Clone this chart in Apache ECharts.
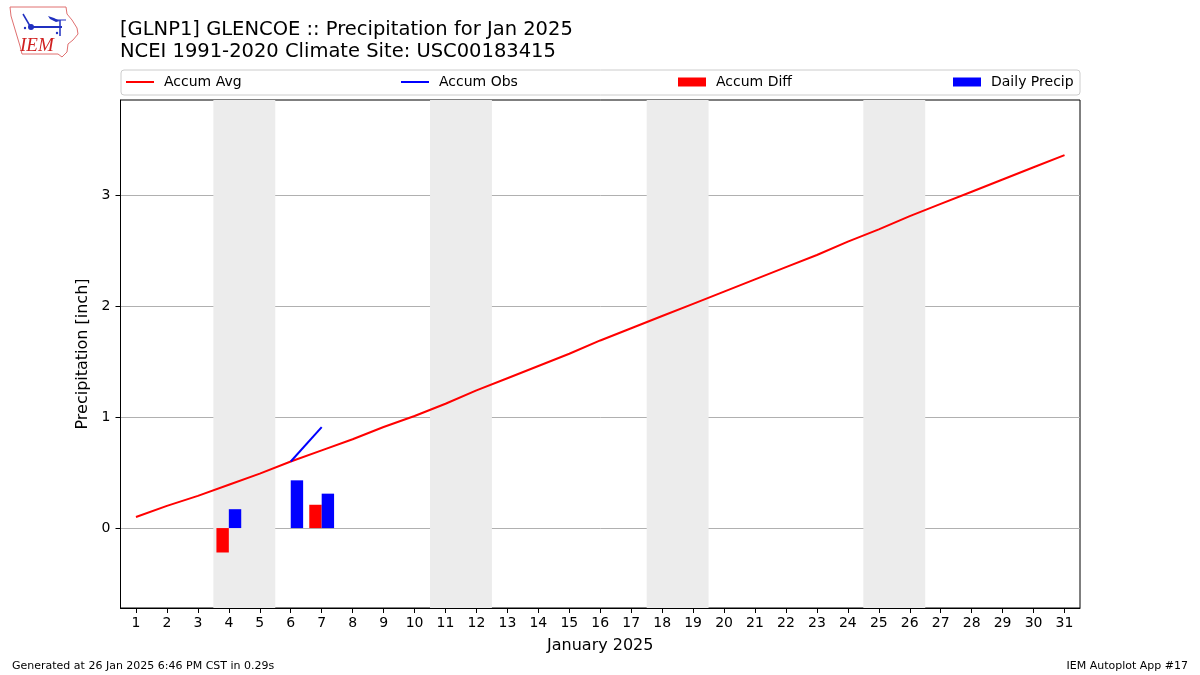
<!DOCTYPE html>
<html>
<head>
<meta charset="utf-8">
<script src="https://cdn.jsdelivr.net/npm/echarts@6/dist/echarts.min.js"></script>
<style>html,body{margin:0;padding:0;background:#fff;}#c{width:1200px;height:675px;}</style>
</head>
<body>
<div id="c"></div>
<script>
const days = ['1','2','3','4','5','6','7','8','9','10','11','12','13','14','15','16','17','18','19','20','21','22','23','24','25','26','27','28','29','30','31'];
const accumAvg = [0.10,0.20,0.29,0.39,0.49,0.60,0.70,0.80,0.91,1.01,1.12,1.24,1.35,1.46,1.57,1.69,1.80,1.91,2.02,2.13,2.24,2.35,2.46,2.58,2.69,2.81,2.92,3.03,3.14,3.25,3.36];
const accumObs = [null,null,null,0.17,null,0.60,0.91,null,null,null,null,null,null,null,null,null,null,null,null,null,null,null,null,null,null,null,null,null,null,null,null];
const accumDiff = [null,null,null,-0.22,null,0.00,0.21,null,null,null,null,null,null,null,null,null,null,null,null,null,null,null,null,null,null,null,null,null,null,null,null];
const dailyPrecip = [null,null,null,0.17,null,0.43,0.31,null,null,null,null,null,null,null,null,null,null,null,null,null,null,null,null,null,null,null,null,null,null,null,null];
const weekendStarts = [4, 11, 18, 25];
const yTicks = [0, 1, 2, 3];

const FONT = 'DejaVu Sans';
const chart = echarts.init(document.getElementById('c'), null, {renderer: 'canvas'});

const legendItems = [
  {name: 'Accum Avg', left: 126, h: 2},
  {name: 'Accum Obs', left: 401, h: 2},
  {name: 'Accum Diff', left: 678, h: 9},
  {name: 'Daily Precip', left: 953, h: 9}
];

const option = {
  animation: false,
  backgroundColor: '#fff',
  textStyle: {fontFamily: FONT},
  title: [
    {text: '[GLNP1] GLENCOE :: Precipitation for Jan 2025', left: 115, top: 15,
     textStyle: {fontFamily: FONT, fontSize: 19.5, fontWeight: 'normal', color: '#000'}},
    {text: 'NCEI 1991-2020 Climate Site: USC00183415', left: 115, top: 37,
     textStyle: {fontFamily: FONT, fontSize: 19.5, fontWeight: 'normal', color: '#000'}}
  ],
  legend: legendItems.map(it => ({
    data: [{name: it.name, icon: 'rect'}],
    left: it.left, top: 75, padding: 0,
    itemWidth: 28, itemHeight: it.h, selectedMode: false,
    textStyle: {fontFamily: FONT, fontSize: 14, color: '#000', padding: [0, 0, 0, 5]}
  })),
  grid: {left: 120.5, right: 120, top: 100, bottom: 67, show: true, borderColor: '#000', borderWidth: 1, containLabel: false},
  xAxis: [
    {type: 'category', data: days, boundaryGap: true,
     name: 'January 2025', nameLocation: 'middle', nameGap: 30,
     nameTextStyle: {fontFamily: FONT, fontSize: 16, color: '#000'},
     axisLine: {show: true, onZero: false, lineStyle: {color: '#000', width: 1}},
     axisTick: {show: true, alignWithLabel: true, length: 5, lineStyle: {color: '#000'}},
     axisLabel: {fontFamily: FONT, fontSize: 14, color: '#000', margin: 8, interval: 0},
     splitLine: {show: false}},
    {type: 'value', min: 0.5, max: 31.5, show: false, position: 'top'}
  ],
  yAxis: {
    type: 'value', min: -0.72, max: 3.856,
    name: 'Precipitation [inch]', nameLocation: 'middle', nameGap: 25,
    nameTextStyle: {fontFamily: FONT, fontSize: 16, color: '#000'},
    axisLine: {show: true, onZero: false, lineStyle: {color: '#000', width: 1}},
    axisTick: {show: true, length: 5, lineStyle: {color: '#000'}, customValues: yTicks},
    axisLabel: {fontFamily: FONT, fontSize: 14, color: '#000', margin: 10, customValues: yTicks},
    splitLine: {show: true, lineStyle: {color: '#b0b0b0', width: 1}}
  },
  series: [
    {name: 'weekends', type: 'line', xAxisIndex: 1, data: [], silent: true, z: 0,
     markArea: {silent: true, itemStyle: {color: '#ececec'},
       data: weekendStarts.map(d => [{xAxis: d - 0.5}, {xAxis: d + 1.5}])}},
    {name: 'Accum Diff', type: 'bar', data: accumDiff, barWidth: 12.4, barGap: '0%',
     itemStyle: {color: '#ff0000'}, z: 2},
    {name: 'Daily Precip', type: 'bar', data: dailyPrecip, barWidth: 12.4, barGap: '0%',
     itemStyle: {color: '#0000ff'}, z: 2},
    {name: 'Accum Avg', type: 'line', data: accumAvg, showSymbol: false, symbol: 'none',
     lineStyle: {color: '#ff0000', width: 2}, itemStyle: {color: '#ff0000'}, z: 3},
    {name: 'Accum Obs', type: 'line', data: accumObs, showSymbol: false, symbol: 'none', connectNulls: false,
     lineStyle: {color: '#0000ff', width: 2}, itemStyle: {color: '#0000ff'}, z: 3}
  ],
  graphic: [
    {type: 'rect', shape: {x: 121, y: 70, width: 959, height: 25, r: 3}, style: {fill: 'none', stroke: '#cccccc', lineWidth: 1}, z: 10},
    {type: 'polygon', shape: {points: [[10,7],[66,7],[67,14],[72,20],[77,28],[78,34],[73,40],[68,44],[67,52],[62,57],[58,54],[22,54],[20,46],[17,36],[14,26],[11,16]]},
     style: {fill: 'none', stroke: '#e07070', lineWidth: 1}},
    {type: 'line', shape: {x1: 30, y1: 27, x2: 62, y2: 27}, style: {stroke: '#2030c0', lineWidth: 2}},
    {type: 'circle', shape: {cx: 31, cy: 27, r: 3}, style: {fill: '#2030c0'}},
    {type: 'line', shape: {x1: 30, y1: 26, x2: 23, y2: 14}, style: {stroke: '#2030c0', lineWidth: 1.5}},
    {type: 'polygon', shape: {points: [[48,16],[54,18],[60,21],[56,22],[50,19]]}, style: {fill: '#2030c0'}},
    {type: 'line', shape: {x1: 60, y1: 20, x2: 60, y2: 36}, style: {stroke: '#2030c0', lineWidth: 1.5}},
    {type: 'line', shape: {x1: 55, y1: 20, x2: 66, y2: 20}, style: {stroke: '#2030c0', lineWidth: 1}},
    {type: 'circle', shape: {cx: 25, cy: 28, r: 1.2}, style: {fill: '#2030c0'}},
    {type: 'circle', shape: {cx: 57, cy: 33, r: 1.2}, style: {fill: '#2030c0'}},
    {type: 'text', x: 20, y: 36, style: {text: 'IEM', font: 'italic 19px "Liberation Serif"', fill: '#d02020'}},
    {type: 'text', x: 12, y: 661, style: {text: 'Generated at 26 Jan 2025 6:46 PM CST in 0.29s', font: '11px "DejaVu Sans"', fill: '#000'}},
    {type: 'text', right: 12, y: 661, style: {text: 'IEM Autoplot App #17', font: '11px "DejaVu Sans"', fill: '#000', textAlign: 'right'}}
  ]
};
chart.setOption(option);
</script>
</body>
</html>
